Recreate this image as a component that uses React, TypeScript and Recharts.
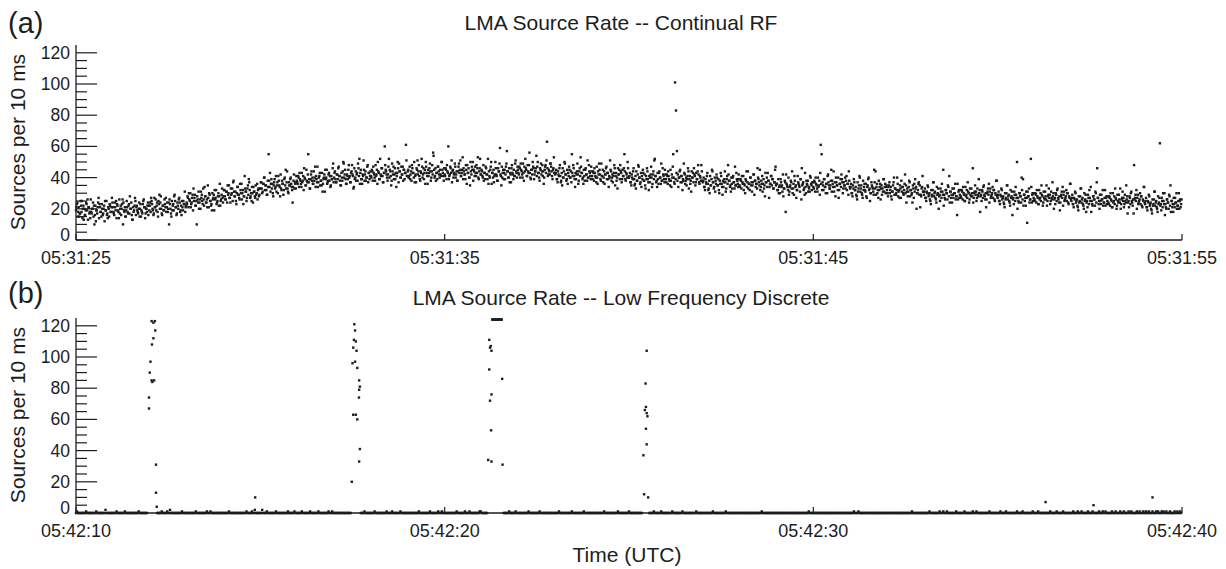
import { Scatter, ScatterChart, XAxis, YAxis } from "recharts";

const ink = "#1d1d1d";
const font = "'Liberation Sans', Arial, Helvetica, sans-serif";

// time axis is seconds from the start of each window
const xTicks = [0, 10, 20, 30];
const topTimeLabels = ["05:31:25", "05:31:35", "05:31:45", "05:31:55"];
const bottomTimeLabels = ["05:42:10", "05:42:20", "05:42:30", "05:42:40"];
const yTicks = [0, 5, 10, 15, 20, 25, 30, 35, 40, 45, 50, 55, 60, 65, 70, 75, 80, 85, 90, 95, 100, 105, 110, 115, 120];
const binSec = 0.025;

// (a) continual RF, one row per second, 40 bins per row
const continualRate = [
  [19, 23, 15, 21, 17, 25, 18, 14, 22, 20, 16, 24, 19, 13, 21, 18, 26, 17, 20, 15, 10, 22, 19, 17, 24, 14, 21, 18, 23, 16, 20, 12, 19, 25, 17, 21, 15, 22, 18, 27],
  [21, 17, 24, 19, 14, 22, 18, 26, 20, 16, 23, 10, 19, 21, 15, 25, 18, 22, 17, 20, 24, 13, 21, 19, 27, 16, 22, 18, 20, 15, 23, 19, 17, 25, 21, 14, 20, 18, 24, 22],
  [22, 18, 25, 20, 16, 27, 21, 19, 24, 15, 23, 20, 28, 17, 22, 19, 26, 21, 18, 24, 20, 10, 23, 17, 25, 22, 19, 29, 21, 16, 24, 20, 27, 18, 22, 25, 19, 23, 31, 21],
  [24, 28, 21, 26, 30, 23, 27, 19, 25, 29, 22, 10, 26, 31, 24, 20, 27, 25, 33, 22, 28, 24, 26, 35, 21, 29, 25, 23, 30, 27, 19, 26, 32, 24, 28, 22, 36, 25, 29, 27],
  [28, 32, 26, 31, 24, 29, 35, 27, 33, 30, 25, 38, 28, 31, 23, 34, 29, 27, 36, 30, 26, 32, 28, 41, 31, 25, 33, 29, 37, 27, 30, 34, 24, 31, 28, 35, 30, 26, 33, 29],
  [33, 37, 30, 36, 40, 32, 35, 29, 38, 55, 34, 31, 39, 36, 28, 37, 33, 41, 35, 30, 38, 34, 42, 32, 36, 29, 39, 35, 33, 44, 31, 37, 35, 40, 34, 24, 38, 33, 36, 41],
  [37, 41, 34, 39, 36, 43, 38, 32, 40, 35, 45, 37, 55, 39, 33, 42, 38, 36, 44, 40, 34, 39, 47, 37, 41, 35, 38, 43, 36, 40, 31, 39, 45, 37, 42, 38, 34, 41, 39, 49],
  [40, 44, 37, 42, 39, 47, 41, 35, 43, 38, 50, 40, 45, 36, 42, 39, 48, 41, 37, 44, 42, 33, 46, 40, 38, 43, 49, 41, 36, 45, 39, 42, 51, 38, 44, 40, 47, 37, 43, 41],
  [41, 45, 38, 43, 40, 48, 42, 36, 44, 39, 52, 41, 46, 37, 43, 60, 45, 42, 38, 47, 40, 44, 35, 49, 42, 39, 46, 43, 41, 50, 37, 44, 40, 47, 42, 38, 45, 43, 61, 41],
  [44, 40, 47, 42, 38, 46, 43, 50, 41, 37, 45, 42, 48, 39, 44, 52, 40, 46, 43, 36, 47, 41, 45, 43, 49, 38, 44, 42, 54, 40, 46, 43, 39, 47, 42, 45, 41, 50, 43, 38],
  [42, 46, 39, 44, 60, 41, 47, 43, 37, 45, 42, 49, 40, 44, 38, 47, 43, 51, 41, 45, 39, 44, 42, 48, 36, 43, 46, 40, 50, 42, 45, 38, 44, 47, 41, 43, 53, 39, 46, 42],
  [45, 41, 48, 43, 39, 46, 42, 52, 44, 40, 47, 36, 43, 45, 41, 50, 42, 38, 46, 44, 59, 41, 47, 43, 39, 45, 42, 49, 44, 40, 46, 43, 37, 48, 42, 45, 41, 51, 43, 47],
  [43, 47, 40, 45, 42, 49, 38, 44, 46, 41, 48, 43, 56, 40, 45, 42, 47, 39, 44, 46, 41, 50, 43, 38, 45, 42, 48, 44, 40, 47, 43, 63, 41, 45, 42, 49, 44, 39, 46, 43],
  [42, 45, 39, 44, 41, 48, 37, 43, 46, 40, 50, 42, 38, 45, 43, 47, 40, 44, 55, 41, 46, 39, 43, 42, 49, 36, 44, 41, 47, 43, 40, 45, 38, 46, 42, 51, 40, 44, 41, 47],
  [41, 44, 38, 43, 40, 47, 36, 42, 45, 39, 49, 41, 37, 44, 42, 46, 39, 43, 34, 40, 45, 38, 42, 41, 48, 35, 43, 40, 46, 42, 39, 44, 37, 45, 41, 55, 39, 43, 40, 46],
  [40, 43, 37, 42, 39, 46, 35, 41, 44, 38, 48, 40, 36, 43, 41, 45, 38, 42, 33, 39, 44, 37, 41, 40, 47, 34, 42, 39, 52, 41, 38, 43, 36, 44, 40, 49, 38, 42, 39, 45],
  [39, 42, 36, 41, 38, 45, 34, 40, 55, 37, 101, 83, 57, 42, 40, 44, 37, 41, 32, 38, 43, 36, 40, 39, 46, 33, 41, 38, 44, 40, 37, 42, 35, 43, 39, 48, 37, 41, 38, 44],
  [37, 40, 34, 39, 36, 43, 32, 38, 41, 35, 45, 37, 33, 40, 38, 42, 35, 39, 30, 36, 41, 34, 38, 37, 44, 31, 39, 36, 42, 38, 35, 40, 33, 41, 37, 47, 35, 39, 36, 42],
  [35, 39, 33, 37, 41, 36, 30, 38, 34, 44, 36, 32, 40, 37, 35, 42, 29, 38, 36, 33, 40, 37, 45, 34, 36, 31, 39, 35, 43, 37, 34, 38, 27, 36, 41, 35, 39, 33, 37, 47],
  [36, 32, 39, 34, 30, 37, 35, 42, 33, 38, 18, 36, 34, 40, 31, 35, 37, 44, 33, 29, 38, 35, 32, 41, 36, 34, 39, 26, 35, 37, 33, 43, 30, 36, 38, 34, 31, 40, 35, 37],
  [34, 38, 31, 36, 33, 40, 35, 29, 61, 55, 37, 32, 39, 34, 36, 30, 42, 35, 33, 38, 31, 36, 44, 34, 28, 37, 35, 40, 32, 36, 34, 39, 30, 37, 35, 33, 41, 36, 29, 38],
  [33, 36, 30, 35, 39, 32, 34, 28, 37, 33, 41, 31, 35, 29, 38, 34, 32, 36, 27, 35, 40, 33, 30, 37, 34, 31, 45, 33, 29, 36, 32, 38, 34, 26, 35, 33, 39, 31, 36, 34],
  [32, 28, 35, 30, 34, 26, 31, 37, 29, 33, 30, 40, 28, 32, 35, 27, 31, 34, 29, 36, 30, 24, 33, 31, 38, 28, 32, 30, 35, 27, 31, 33, 20, 30, 36, 29, 21, 28, 34, 31],
  [29, 33, 27, 31, 35, 28, 30, 25, 32, 29, 37, 28, 31, 26, 34, 30, 20, 29, 33, 27, 31, 45, 29, 26, 32, 30, 35, 28, 24, 31, 29, 33, 27, 30, 36, 28, 16, 26, 32, 29],
  [28, 32, 26, 30, 25, 34, 29, 27, 31, 24, 33, 28, 30, 46, 27, 31, 29, 25, 33, 28, 30, 18, 29, 32, 27, 35, 28, 30, 26, 31, 29, 24, 33, 28, 30, 27, 32, 25, 29, 38],
  [27, 31, 25, 29, 33, 26, 28, 23, 30, 27, 35, 26, 29, 24, 32, 28, 16, 27, 31, 25, 29, 50, 27, 24, 30, 28, 40, 26, 22, 29, 27, 31, 11, 28, 33, 26, 52, 24, 30, 27],
  [26, 30, 24, 28, 23, 32, 27, 25, 29, 22, 31, 26, 28, 35, 25, 29, 27, 23, 31, 26, 28, 20, 27, 30, 25, 33, 26, 28, 24, 29, 27, 22, 31, 26, 28, 25, 30, 23, 27, 36],
  [25, 29, 23, 27, 31, 24, 26, 21, 28, 25, 33, 24, 27, 22, 30, 26, 18, 25, 29, 23, 27, 34, 25, 22, 28, 26, 31, 24, 46, 27, 25, 29, 23, 26, 32, 24, 27, 22, 28, 25],
  [24, 28, 22, 26, 21, 30, 25, 23, 27, 20, 29, 24, 26, 33, 23, 27, 25, 21, 29, 24, 26, 17, 25, 28, 23, 31, 24, 26, 48, 27, 25, 20, 29, 24, 26, 23, 28, 21, 25, 34],
  [23, 27, 21, 25, 29, 22, 24, 19, 26, 23, 31, 22, 25, 20, 28, 24, 62, 23, 27, 21, 25, 30, 23, 20, 26, 24, 29, 22, 18, 25, 23, 27, 21, 24, 30, 22, 25, 20, 26, 23],
];

// the bins in between (half a bin later), same layout
const continualRateMid = [
  [21, 24, 18, 15, 17, 22, 25, 20, 13, 16, 19, 23, 26, 21, 17, 14, 18, 20, 24, 22, 16, 12, 19, 21, 27, 23, 18, 15, 20, 17, 22, 25, 19, 16, 14, 20, 23, 18, 21, 24],
  [18, 16, 21, 25, 23, 19, 14, 17, 22, 20, 26, 24, 18, 15, 19, 21, 17, 23, 28, 20, 16, 13, 18, 22, 25, 21, 19, 17, 24, 20, 15, 18, 23, 26, 21, 17, 20, 22, 16, 19],
  [24, 27, 23, 19, 17, 21, 26, 22, 18, 25, 29, 24, 20, 16, 22, 19, 23, 27, 21, 18, 24, 26, 20, 15, 19, 23, 28, 25, 21, 17, 22, 26, 24, 19, 16, 21, 25, 23, 18, 22],
  [23, 27, 30, 25, 21, 24, 29, 33, 27, 22, 25, 28, 24, 20, 26, 31, 29, 23, 26, 34, 28, 24, 21, 27, 30, 25, 22, 19, 26, 29, 32, 27, 23, 25, 30, 28, 22, 26, 33, 24],
  [32, 28, 26, 31, 35, 30, 27, 24, 29, 33, 37, 31, 28, 25, 30, 34, 29, 26, 32, 36, 30, 23, 28, 33, 31, 27, 35, 39, 32, 28, 25, 30, 34, 31, 27, 29, 36, 32, 28, 33],
  [37, 33, 31, 36, 40, 35, 32, 29, 34, 38, 43, 36, 33, 30, 35, 39, 34, 31, 37, 41, 35, 28, 33, 38, 36, 32, 40, 45, 37, 33, 30, 35, 39, 36, 32, 34, 42, 37, 33, 38],
  [36, 40, 43, 38, 34, 37, 41, 46, 39, 35, 38, 42, 37, 33, 39, 44, 40, 36, 38, 47, 41, 37, 34, 40, 43, 38, 35, 31, 39, 42, 45, 40, 36, 38, 43, 41, 35, 39, 46, 37],
  [43, 39, 37, 42, 46, 41, 38, 35, 40, 44, 49, 42, 39, 36, 41, 45, 40, 37, 43, 48, 41, 34, 39, 44, 42, 38, 46, 52, 43, 39, 36, 41, 45, 42, 38, 40, 48, 43, 39, 44],
  [40, 44, 47, 42, 38, 41, 45, 50, 43, 39, 42, 46, 41, 37, 43, 48, 44, 40, 42, 52, 45, 41, 38, 44, 47, 42, 39, 34, 43, 46, 49, 44, 40, 42, 47, 45, 39, 43, 51, 41],
  [45, 41, 39, 44, 48, 43, 40, 37, 42, 46, 51, 44, 41, 38, 43, 47, 42, 39, 45, 50, 43, 36, 41, 46, 44, 40, 48, 56, 45, 41, 38, 43, 47, 44, 40, 42, 50, 45, 41, 46],
  [41, 45, 48, 43, 39, 42, 46, 51, 44, 40, 43, 47, 42, 38, 44, 49, 45, 41, 43, 53, 46, 42, 39, 45, 48, 43, 40, 35, 44, 47, 50, 45, 41, 43, 48, 46, 40, 44, 52, 42],
  [44, 40, 38, 43, 47, 42, 39, 36, 41, 45, 50, 43, 40, 37, 42, 46, 41, 38, 44, 49, 42, 35, 40, 45, 43, 39, 47, 57, 44, 40, 37, 42, 46, 43, 39, 41, 49, 44, 40, 45],
  [42, 46, 49, 44, 40, 43, 47, 52, 45, 41, 44, 48, 43, 39, 45, 50, 46, 42, 44, 54, 47, 43, 40, 46, 49, 44, 41, 36, 45, 48, 51, 46, 42, 44, 49, 47, 41, 45, 53, 43],
  [43, 39, 37, 42, 46, 41, 38, 35, 40, 44, 49, 42, 39, 36, 41, 45, 40, 37, 43, 48, 41, 34, 39, 44, 42, 38, 46, 53, 43, 39, 36, 41, 45, 42, 38, 40, 48, 43, 39, 44],
  [39, 43, 46, 41, 37, 40, 44, 49, 42, 38, 41, 45, 40, 36, 42, 47, 43, 39, 41, 51, 44, 40, 37, 43, 46, 41, 38, 33, 42, 45, 48, 43, 39, 41, 46, 44, 38, 42, 50, 40],
  [41, 37, 35, 40, 44, 39, 36, 33, 38, 42, 47, 40, 37, 34, 39, 43, 38, 35, 41, 46, 39, 32, 37, 42, 40, 36, 44, 51, 41, 37, 34, 39, 43, 40, 36, 38, 46, 41, 37, 42],
  [37, 41, 44, 39, 35, 38, 42, 47, 40, 36, 39, 43, 38, 34, 40, 45, 41, 37, 39, 49, 42, 38, 35, 41, 44, 39, 36, 31, 40, 43, 46, 41, 37, 39, 44, 42, 36, 40, 48, 38],
  [38, 34, 32, 37, 41, 36, 33, 30, 35, 39, 44, 37, 34, 31, 36, 40, 35, 32, 38, 43, 36, 29, 34, 39, 37, 33, 41, 48, 38, 34, 31, 36, 40, 37, 33, 35, 43, 38, 34, 39],
  [34, 38, 41, 36, 32, 35, 39, 44, 37, 33, 36, 40, 35, 31, 37, 42, 38, 34, 36, 46, 39, 35, 32, 38, 41, 36, 33, 28, 37, 40, 43, 38, 34, 36, 41, 39, 33, 37, 45, 35],
  [36, 32, 30, 35, 39, 34, 31, 28, 33, 37, 42, 35, 32, 29, 34, 38, 33, 30, 36, 41, 34, 27, 32, 37, 35, 31, 39, 46, 36, 32, 29, 34, 38, 35, 31, 33, 41, 36, 32, 37],
  [33, 37, 40, 35, 31, 34, 38, 43, 36, 32, 35, 39, 34, 30, 36, 41, 37, 33, 35, 45, 38, 34, 31, 37, 40, 35, 32, 27, 36, 39, 42, 37, 33, 35, 40, 38, 32, 36, 44, 34],
  [34, 30, 28, 33, 37, 32, 29, 26, 31, 35, 40, 33, 30, 27, 32, 36, 31, 28, 34, 39, 32, 25, 30, 35, 33, 29, 37, 44, 34, 30, 27, 32, 36, 33, 29, 31, 39, 34, 30, 35],
  [30, 34, 37, 32, 28, 31, 35, 40, 33, 29, 32, 36, 31, 27, 33, 38, 34, 30, 32, 42, 35, 31, 28, 34, 37, 32, 29, 24, 33, 36, 39, 34, 30, 32, 37, 35, 29, 33, 41, 31],
  [31, 27, 25, 30, 34, 29, 26, 23, 28, 32, 37, 30, 27, 24, 29, 33, 28, 25, 31, 36, 29, 22, 27, 32, 30, 26, 34, 41, 31, 27, 24, 29, 33, 30, 26, 28, 36, 31, 27, 32],
  [27, 31, 34, 29, 25, 28, 32, 37, 30, 26, 29, 33, 28, 24, 30, 35, 31, 27, 29, 39, 32, 28, 25, 31, 34, 29, 26, 21, 30, 33, 36, 31, 27, 29, 34, 32, 26, 30, 38, 28],
  [29, 25, 23, 28, 32, 27, 24, 21, 26, 30, 35, 28, 25, 22, 27, 31, 26, 23, 29, 34, 27, 20, 25, 30, 28, 24, 32, 39, 29, 25, 22, 27, 31, 28, 24, 26, 34, 29, 25, 30],
  [25, 29, 32, 27, 23, 26, 30, 35, 28, 24, 27, 31, 26, 22, 28, 33, 29, 25, 27, 37, 30, 26, 23, 29, 32, 27, 24, 19, 28, 31, 34, 29, 25, 27, 32, 30, 24, 28, 36, 26],
  [27, 23, 21, 26, 30, 25, 22, 19, 24, 28, 33, 26, 23, 20, 25, 29, 24, 21, 27, 32, 25, 18, 23, 28, 26, 22, 30, 37, 27, 23, 20, 25, 29, 26, 22, 24, 32, 27, 23, 28],
  [23, 27, 30, 25, 21, 24, 28, 33, 26, 22, 25, 29, 24, 20, 26, 31, 27, 23, 25, 35, 28, 24, 21, 27, 30, 25, 22, 17, 26, 29, 32, 27, 23, 25, 30, 28, 22, 26, 34, 24],
  [25, 21, 19, 24, 28, 23, 20, 17, 22, 26, 31, 24, 21, 18, 23, 27, 22, 19, 25, 30, 23, 16, 21, 26, 24, 20, 28, 35, 25, 21, 18, 23, 27, 24, 20, 22, 30, 25, 21, 26],
];

// (b) low frequency discrete: small counts per bin, "-" where the flashes are listed below
const discreteBaseline = [
  "0100000000 0100000000 0010000000 0020000000",
  "0000100000 0001000000 0000000010 00000000--",
  "--------00 0001000001 0020000000 0000010000",
  "0000000000 1000000000 0010001000 0000000000",
  "0000001000 0000000000 0000010000 0100200000",
  "0020000100 0000000100 0000000000 1000000100",
  "0000010000 0000100000 0001000000 0000100010",
  "0000000000 000000000- ---------0 0001000000",
  "0000100000 0000000100 0001000000 0010000000",
  "0000000000 0010000000 0000100000 0001000100",
  "0000000000 0001000000 0010000100 0000000011",
  "0000000--- ---------- ----000000 1000000100",
  "0000000000 0100000000 0001000000 0000000000",
  "0000100000 0000000010 0000000000 0100000000",
  "0000000000 0001000000 0000000010 0000000000",
  "1000000000 00000----- --00000100 0000010000",
  "0000000100 0000000010 0000000000 0001000000",
  "0000000000 0100000000 0000010000 0000000000",
  "0000000000 0000000000 0000100000 0000000000",
  "0000000000 0000000000 0000000000 0000010000",
  "0000000000 0000000000 0000000000 0000000000",
  "0000100001 0000000000 0000000000 0000000000",
  "0000000000 0000000000 0000000100 0000000000",
  "0000001000 0000000100 0100010000 0000010000",
  "0000100000 0001000100 0000000000 0100000000",
  "0001000001 0000000000 0100000100 0000000010",
  "0000100000 0000000100 0000100000 0100000000",
  "0010000100 0100000010 0001000000 1000100100",
  "0000100010 0001000100 0010010000 0100100010",
  "0100100010 0010100010 1001000100 0010010010",
];

const flashA = [[1.98, 67], [1.98, 74], [2.0, 90], [2.02, 97], [2.05, 85], [2.06, 108], [2.05, 123], [2.07, 84], [2.1, 112], [2.1, 122], [2.12, 85], [2.14, 123], [2.15, 117], [2.17, 31], [2.17, 13], [2.19, 4]];
const flashB = [[7.48, 20], [7.5, 96], [7.52, 63], [7.52, 106], [7.54, 111], [7.55, 121], [7.57, 117], [7.57, 97], [7.59, 110], [7.59, 63], [7.61, 104], [7.63, 93], [7.63, 60], [7.675, 74], [7.68, 85], [7.68, 79], [7.68, 33], [7.7, 81], [7.7, 41]];
const flashC = [[11.18, 34], [11.21, 111], [11.21, 92], [11.23, 106], [11.23, 72], [11.25, 107], [11.26, 53], [11.27, 104], [11.27, 76], [11.27, 33], [11.29, 124], [11.31, 124], [11.33, 124], [11.35, 124], [11.37, 124], [11.39, 124], [11.41, 124], [11.43, 124], [11.45, 124], [11.47, 124], [11.49, 124], [11.51, 124], [11.53, 124], [11.55, 124], [11.56, 86], [11.57, 31]];
const flashD = [[15.39, 37], [15.41, 12], [15.43, 66], [15.45, 83], [15.46, 68], [15.46, 54], [15.48, 104], [15.48, 64], [15.48, 44], [15.5, 62], [15.52, 10]];
const sparks = [[4.86, 10], [26.3, 7], [27.6, 5], [29.2, 10]];

type Pt = { t: number; v: number };

const rfPoints: Pt[] = [
  ...continualRate.flatMap((row, s) => row.map((v, i) => ({ t: s + i * binSec, v }))),
  ...continualRateMid.flatMap((row, s) => row.map((v, i) => ({ t: s + (i + 0.5) * binSec, v }))),
];

const lfPoints: Pt[] = [
  ...discreteBaseline.flatMap((row, s) =>
    row
      .replace(/ /g, "")
      .split("")
      .map((c, i) => (c === "-" ? null : { t: s + i * binSec, v: Number(c) }))
      .filter((p): p is Pt => p !== null)
  ),
  ...[...flashA, ...flashB, ...flashC, ...flashD, ...sparks].map(([t, v]) => ({ t, v })),
];

const frame = { stroke: ink, strokeWidth: 1.3 };

const Dot = (p: any) => <rect x={p.cx - 1.2} y={p.cy - 1.2} width={2.4} height={2.4} fill={ink} />;

function BottomTick({ x, y, payload, labels }: any) {
  const i = xTicks.indexOf(payload.value);
  return (
    <g>
      <line x1={x} y1={y} x2={x} y2={y - 6} stroke={ink} strokeWidth={1.2} />
      <text x={x} y={y + 24} textAnchor="middle" fontSize={18} fill={ink} fontFamily={font}>
        {labels[i]}
      </text>
    </g>
  );
}

function TopTick({ x, y }: any) {
  return <line x1={x} y1={y} x2={x} y2={y + 6} stroke={ink} strokeWidth={1.2} />;
}

function LeftTick({ x, y, payload }: any) {
  const major = payload.value % 20 === 0;
  return (
    <g>
      <line x1={x} y1={y} x2={x + (major ? 21 : 11)} y2={y} stroke={ink} strokeWidth={1.2} />
      {major && (
        <text x={x - 6} y={y + (payload.value === 0 ? 1 : 6)} textAnchor="end" fontSize={17.5} fill={ink} fontFamily={font}>
          {payload.value}
        </text>
      )}
    </g>
  );
}

function RightTick({ x, y, payload }: any) {
  const major = payload.value % 20 === 0;
  return <line x1={x} y1={y} x2={x - (major ? 21 : 11)} y2={y} stroke={ink} strokeWidth={1.2} />;
}

function Panel({ points, labels }: { points: Pt[]; labels: string[] }) {
  return (
    <ScatterChart width={1226} height={270} margin={{ top: 45, right: 44, bottom: 0, left: 16 }}>
      <XAxis
        dataKey="t"
        type="number"
        domain={[0, 30]}
        ticks={xTicks}
        interval={0}
        height={30}
        tickSize={0}
        tickMargin={0}
        tickLine={false}
        axisLine={frame}
        tick={(p: any) => <BottomTick {...p} labels={labels} />}
      />
      <XAxis
        xAxisId="top"
        orientation="top"
        type="number"
        domain={[0, 30]}
        allowDataOverflow
        ticks={xTicks}
        interval={0}
        height={0}
        tickSize={0}
        tickMargin={0}
        tickLine={false}
        axisLine={frame}
        tick={TopTick}
      />
      <YAxis
        dataKey="v"
        type="number"
        domain={[0, 125]}
        ticks={yTicks}
        interval={0}
        width={60}
        tickSize={0}
        tickMargin={0}
        tickLine={false}
        axisLine={frame}
        tick={LeftTick}
      />
      <YAxis
        yAxisId="right"
        orientation="right"
        type="number"
        domain={[0, 125]}
        allowDataOverflow
        ticks={yTicks}
        interval={0}
        width={0}
        tickSize={0}
        tickMargin={0}
        tickLine={false}
        axisLine={frame}
        tick={RightTick}
      />
      <Scatter data={points} shape={Dot} isAnimationActive={false} />
    </ScatterChart>
  );
}

export default function App() {
  const txt = { fill: ink, fontFamily: font };
  return (
    <div style={{ position: "absolute", left: 0, top: 0, width: 1226, height: 569, background: "#fff" }}>
      <style>{"body{margin:0}"}</style>
      <div style={{ position: "absolute", left: 0, top: 0 }}>
        <Panel points={rfPoints} labels={topTimeLabels} />
      </div>
      <div style={{ position: "absolute", left: 0, top: 273 }}>
        <Panel points={lfPoints} labels={bottomTimeLabels} />
      </div>
      <svg width={1226} height={569} style={{ position: "absolute", left: 0, top: 0, pointerEvents: "none" }}>
        <text x={8} y={33} fontSize={29} {...txt}>(a)</text>
        <text x={621} y={30} fontSize={21} textAnchor="middle" {...txt}>LMA Source Rate -- Continual RF</text>
        <text transform="translate(25,142) rotate(-90)" fontSize={21} textAnchor="middle" {...txt}>Sources per 10 ms</text>
        <text x={8} y={303} fontSize={29} {...txt}>(b)</text>
        <text x={621} y={305} fontSize={21} textAnchor="middle" {...txt}>LMA Source Rate -- Low Frequency Discrete</text>
        <text transform="translate(25,415) rotate(-90)" fontSize={21} textAnchor="middle" {...txt}>Sources per 10 ms</text>
        <text x={627} y={562} fontSize={21} textAnchor="middle" {...txt}>Time (UTC)</text>
      </svg>
    </div>
  );
}
